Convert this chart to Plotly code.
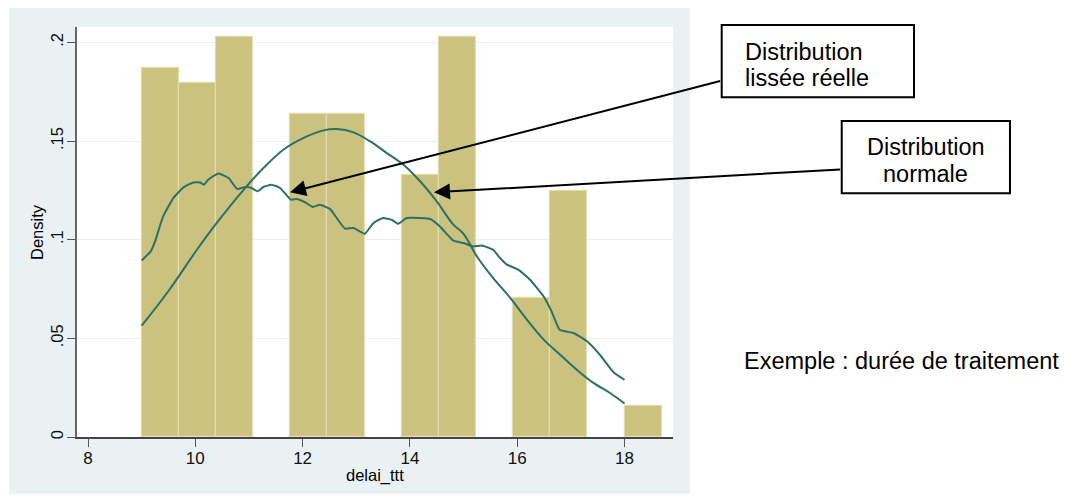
import plotly.graph_objects as go

# Histogram of delai_ttt (density scale), bins of width 9/13 starting at 9
bin_starts = [9.0, 9.692, 10.385, 11.769, 12.462, 13.846, 14.538, 15.923, 16.615, 18.0]
bin_density = [0.187, 0.1792, 0.2027, 0.1635, 0.1635, 0.1326, 0.2027, 0.0703, 0.1245, 0.0159]
bin_width = 0.6923

# Kernel density estimate of delai_ttt
kde_x = [9.0, 9.17, 9.25, 9.40, 9.59, 9.78, 9.96, 10.09, 10.16, 10.24, 10.43, 10.62,
         10.78, 10.93, 11.05, 11.16, 11.27, 11.42, 11.58, 11.78, 11.89, 12.05, 12.19,
         12.32, 12.51, 12.57, 12.79, 12.95, 13.16, 13.32, 13.50, 13.66, 13.78, 13.94,
         14.19, 14.38, 14.56, 14.81, 15.00, 15.18, 15.34, 15.55, 15.68, 15.80, 16.02,
         16.24, 16.49, 16.64, 16.79, 17.05, 17.30, 17.54, 17.80, 18.0]
kde_y = [0.0895, 0.0941, 0.0991, 0.1118, 0.1211, 0.1265, 0.1290, 0.1290, 0.1279, 0.1304,
         0.1336, 0.1313, 0.1257, 0.1267, 0.1262, 0.1245, 0.1267, 0.1279, 0.1262, 0.1203,
         0.1206, 0.1189, 0.1166, 0.1177, 0.1156, 0.1135, 0.1056, 0.1059, 0.1030, 0.1085,
         0.1110, 0.1101, 0.1081, 0.1110, 0.1110, 0.1105, 0.1067, 0.0995, 0.0983, 0.0966,
         0.0971, 0.0949, 0.0907, 0.0875, 0.0848, 0.0797, 0.0713, 0.0637, 0.0544, 0.0527,
         0.0485, 0.0417, 0.0327, 0.0290]

# Normal density overlay
norm_x = [9.0, 9.5, 10.03, 10.40, 10.90, 11.27, 11.64, 12.01, 12.39, 12.64, 12.95, 13.26,
          13.57, 13.88, 14.19, 14.50, 14.81, 15.0, 15.25, 15.55, 15.87, 16.18, 16.49,
          16.80, 17.11, 17.42, 17.73, 18.0]
norm_y = [0.0564, 0.0740, 0.0949, 0.1085, 0.1253, 0.1363, 0.1456, 0.1515, 0.1554, 0.1561,
          0.1544, 0.1498, 0.1439, 0.1380, 0.1296, 0.1194, 0.1076, 0.1030, 0.0915, 0.0806,
          0.0705, 0.0595, 0.0495, 0.0417, 0.0341, 0.0274, 0.0223, 0.0170]

y_ticks = [0, 0.05, 0.1, 0.15, 0.2]
y_tick_labels = ["0", ".05", ".1", ".15", ".2"]
x_ticks = [8, 10, 12, 14, 16, 18]

FONT = "Arial, 'Liberation Sans', sans-serif"
BAR_FILL = "#CAC27E"
BAR_EDGE = "#E2DDAE"
CURVE = "#2C7068"
REGION = "#EAF1F3"

fig = go.Figure()
fig.add_trace(go.Bar(x=bin_starts, y=bin_density, width=bin_width, offset=0,
                     marker=dict(color=BAR_FILL, line=dict(color=BAR_EDGE, width=1.2)),
                     showlegend=False, hoverinfo="skip"))
fig.add_trace(go.Scatter(x=kde_x, y=kde_y, mode="lines",
                         line=dict(color=CURVE, width=2, shape="spline", smoothing=0.4),
                         showlegend=False))
fig.add_trace(go.Scatter(x=norm_x, y=norm_y, mode="lines",
                         line=dict(color=CURVE, width=2, shape="spline", smoothing=1.0),
                         showlegend=False))

# Graph region and plot region backgrounds
shapes = [
    dict(type="rect", xref="paper", yref="paper", x0=-0.1141, x1=1.0285, y0=-0.1382, y1=1.0463,
         fillcolor=REGION, line=dict(width=0), layer="below"),
    dict(type="rect", xref="paper", yref="paper", x0=0, x1=1, y0=0, y1=1,
         fillcolor="white", line=dict(width=0), layer="below"),
    # callout boxes
    dict(type="rect", xref="paper", yref="paper", x0=1.0817, x1=1.4044, y0=0.8287, y1=1.0049,
         fillcolor="white", line=dict(color="black", width=2)),
    dict(type="rect", xref="paper", yref="paper", x0=1.2831, x1=1.5654, y0=0.5947, y1=0.7709,
         fillcolor="white", line=dict(color="black", width=2)),
]

txt_font = dict(family=FONT, size=23.5, color="black")
annotations = [
    dict(text="Density", xref="paper", yref="paper", x=-0.0671, y=0.5, textangle=-90,
         showarrow=False, font=dict(family=FONT, size=16.5, color="black"),
         xanchor="center", yanchor="middle"),
    dict(text="delai_ttt", xref="paper", yref="paper", x=0.5, y=-0.0936,
         showarrow=False, font=dict(family=FONT, size=16.5, color="black"),
         xanchor="center", yanchor="middle"),
    dict(text="Distribution", xref="paper", yref="paper", x=1.1169, y=0.9398,
         showarrow=False, font=txt_font, xanchor="left", yanchor="middle"),
    dict(text="lissée réelle", xref="paper", yref="paper", x=1.1169, y=0.875,
         showarrow=False, font=txt_font, xanchor="left", yanchor="middle"),
    dict(text="Distribution", xref="paper", yref="paper", x=1.4242, y=0.7083,
         showarrow=False, font=txt_font, xanchor="center", yanchor="middle"),
    dict(text="normale", xref="paper", yref="paper", x=1.4242, y=0.6417,
         showarrow=False, font=txt_font, xanchor="center", yanchor="middle"),
    dict(text="Exemple : durée de traitement", xref="paper", yref="paper", x=1.1153, y=0.186,
         showarrow=False, font=txt_font, xanchor="left", yanchor="middle"),
    # arrows from the callouts to the curves
    dict(text="", x=11.765, y=0.124, xref="x", yref="y", ax=431.7, ay=-111.7,
         showarrow=True, arrowhead=2, arrowsize=1.6, arrowwidth=2, arrowcolor="black",
         standoff=0),
    dict(text="", x=14.449, y=0.124, xref="x", yref="y", ax=407.7, ay=-23,
         showarrow=True, arrowhead=2, arrowsize=1.6, arrowwidth=2, arrowcolor="black",
         standoff=0),
]

fig.update_layout(
    width=1065, height=500,
    margin=dict(l=77, r=392, t=27, b=63, pad=0),
    paper_bgcolor="white", plot_bgcolor="white",
    bargap=0, barmode="overlay",
    font=dict(family=FONT, size=16, color="black"),
    shapes=shapes, annotations=annotations,
    xaxis=dict(range=[7.795, 18.904], tickvals=x_ticks, ticks="outside", ticklen=8,
               tickwidth=1, tickcolor="#555", showline=True, linecolor="#444", linewidth=1.5,
               showgrid=False, zeroline=False, tickfont=dict(size=17, color="#111"),
               ticklabelstandoff=-3),
    yaxis=dict(range=[0, 0.2078], tickvals=y_ticks, ticktext=y_tick_labels, tickangle=-90,
               ticks="outside", ticklen=8, tickwidth=1, tickcolor="#555", showline=True,
               linecolor="#666", linewidth=1.5, showgrid=True, gridcolor="#E8F0F2",
               gridwidth=1.3, zeroline=False, tickfont=dict(size=16.5, color="#111"),
               ticklabelstandoff=-2),
)

fig.write_html("out.html")
